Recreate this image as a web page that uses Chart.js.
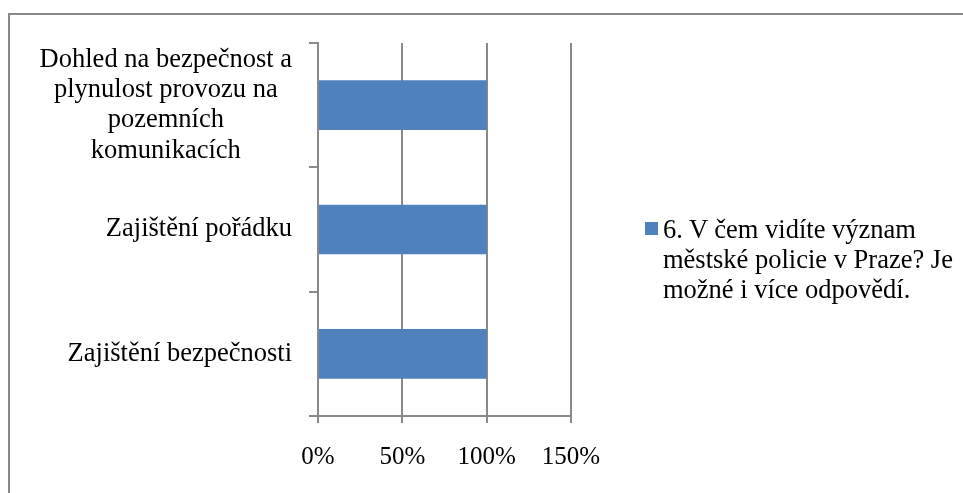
<!DOCTYPE html>
<html lang="cs">
<head>
  <meta charset="UTF-8">
  <title>Význam městské policie v Praze</title>
  <script src="https://cdn.jsdelivr.net/npm/chart.js"></script>
  <style>
    html, body {
      margin: 0;
      padding: 0;
      background: #fff;
      overflow: hidden;
    }
    #frame {
      position: absolute;
      left: 8px;
      top: 13px;
      width: 1200px;
      height: 800px;
      border: 2px solid #888;
    }
    #wrap {
      position: absolute;
      left: 0;
      top: 0;
      width: 963px;
      height: 493px;
    }
    #legend {
      position: absolute;
      left: 645px;
      top: 214px;
      font-family: "Liberation Serif", serif;
      font-size: 26.5px;
      line-height: 30px;
      color: #000;
      white-space: nowrap;
    }
    #legend .box {
      position: absolute;
      left: 0;
      top: 8px;
      width: 13px;
      height: 13px;
    }
    #legend .txt {
      margin-left: 18px;
    }
  </style>
</head>
<body>
  <div id="frame"></div>
  <div id="wrap"><canvas id="chart" width="963" height="493"></canvas></div>
  <div id="legend"></div>

  <script>
    // kategorie odshora dolu
    const categories = [
      ['Dohled na bezpečnost a', 'plynulost provozu na', 'pozemních', 'komunikacích'],
      ['Zajištění pořádku'],
      ['Zajištění bezpečnosti']
    ];
    const values = [100, 100, 100];
    const seriesName = '6. V čem vidíte význam městské policie v Praze? Je možné i více odpovědí.';
    const legendLines = ['6. V čem vidíte význam', 'městské policie v Praze? Je', 'možné i více odpovědí.'];
    const xTicks = [0, 50, 100, 150];

    const barColor = '#4f81bd';
    const gridColor = '#898989';

    // popisky kategorii: radky centrovane v bloku, blok zarovnany doprava k ose
    const yLabels = {
      id: 'yLabels',
      afterDraw(chart) {
        const ctx = chart.ctx;
        const y = chart.scales.y;
        const lh = 30.3;
        ctx.save();
        ctx.font = '26.5px "Liberation Serif"';
        ctx.fillStyle = '#000';
        ctx.textAlign = 'center';
        ctx.textBaseline = 'middle';
        chart.data.labels.forEach((lab, i) => {
          const lines = [].concat(lab);
          const w = Math.max(...lines.map(l => ctx.measureText(l).width));
          const cx = y.right - 26 - w / 2;
          const cy = y.getPixelForValue(i) - (lines.length - 1) * lh / 2;
          lines.forEach((l, j) => ctx.fillText(l, cx, cy + j * lh));
        });
        ctx.restore();
      }
    };

    const chart = new Chart(document.getElementById('chart'), {
      type: 'bar',
      data: {
        labels: categories,
        datasets: [{
          label: seriesName,
          data: values,
          backgroundColor: barColor,
          borderWidth: 0,
          categoryPercentage: 1,
          barPercentage: 0.4
        }]
      },
      options: {
        indexAxis: 'y',
        responsive: false,
        animation: false,
        layout: {
          padding: { left: 0, top: 43, right: 392, bottom: 17 }
        },
        plugins: {
          legend: { display: false },
          tooltip: { enabled: false }
        },
        scales: {
          x: {
            min: xTicks[0],
            max: xTicks[xTicks.length - 1],
            afterFit: s => { s.height = 60; },
            afterBuildTicks: s => { s.ticks = xTicks.map(v => ({ value: v })); },
            grid: {
              color: gridColor,
              lineWidth: 2,
              tickLength: 7
            },
            border: { color: gridColor, width: 2 },
            ticks: {
              padding: 19,
              color: '#000',
              font: { family: 'Liberation Serif', size: 25 },
              callback: v => v + '%'
            }
          },
          y: {
            afterFit: s => { s.width = 318; },
            grid: {
              color: gridColor,
              lineWidth: 2,
              tickLength: 9,
              drawOnChartArea: false
            },
            border: { color: gridColor, width: 2 },
            ticks: { display: false }
          }
        }
      },
      plugins: [yLabels]
    });

    // legenda z datove rady
    const lg = document.getElementById('legend');
    const ds = chart.data.datasets[0];
    lg.innerHTML = '<span class="box" style="background:' + ds.backgroundColor + '"></span>' +
      '<div class="txt">' + legendLines.join('<br>') + '</div>';
  </script>
</body>
</html>
